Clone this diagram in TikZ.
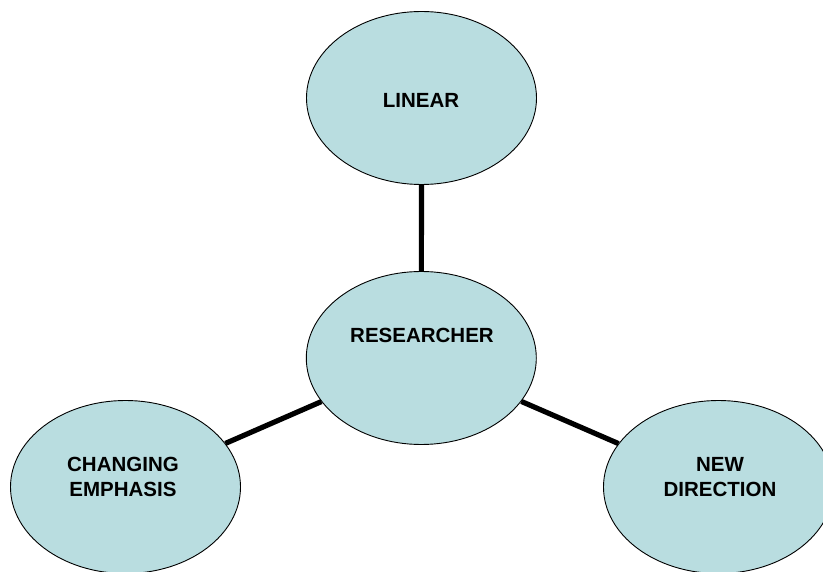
\documentclass[tikz,border=0pt]{standalone}
\usepackage{fontspec}
\setmainfont{Liberation Sans}
\usetikzlibrary{shapes.geometric}
\definecolor{bubble}{RGB}{185,221,224}
\tikzset{
  bubblenode/.style={ellipse, draw=black, line width=0.9pt, fill=bubble,
    minimum width=230pt, minimum height=173pt, inner sep=0pt},
  bubbletext/.style={font=\bfseries\fontsize{20.5}{24.4}\selectfont, align=center, inner sep=0pt},
  link/.style={line width=5.2pt, black}
}
\begin{document}
\begin{tikzpicture}[x=1pt,y=-1pt]
\useasboundingbox (0,0) rectangle (823,572);
\clip (0,0) rectangle (823,572);
\node[bubblenode] (lin) at (421.5,98) {};
\node[bubblenode] (res) at (421.3,358) {};
\node[bubblenode] (chg) at (125.5,487) {};
\node[bubblenode] (new) at (718.5,487) {};
\node[bubbletext] (linT) at (421,100) {LINEAR};
\node[bubbletext] (resT) at (422,335.3) {RESEARCHER};
\node[bubbletext] (chgT) at (123,477) {CHANGING\\EMPHASIS};
\node[bubbletext] (newT) at (720,477) {NEW\\DIRECTION};
\draw[link] (res) -- (lin);
\draw[link] (res) -- (chg);
\draw[link] (res) -- (new);
\end{tikzpicture}
\end{document}
